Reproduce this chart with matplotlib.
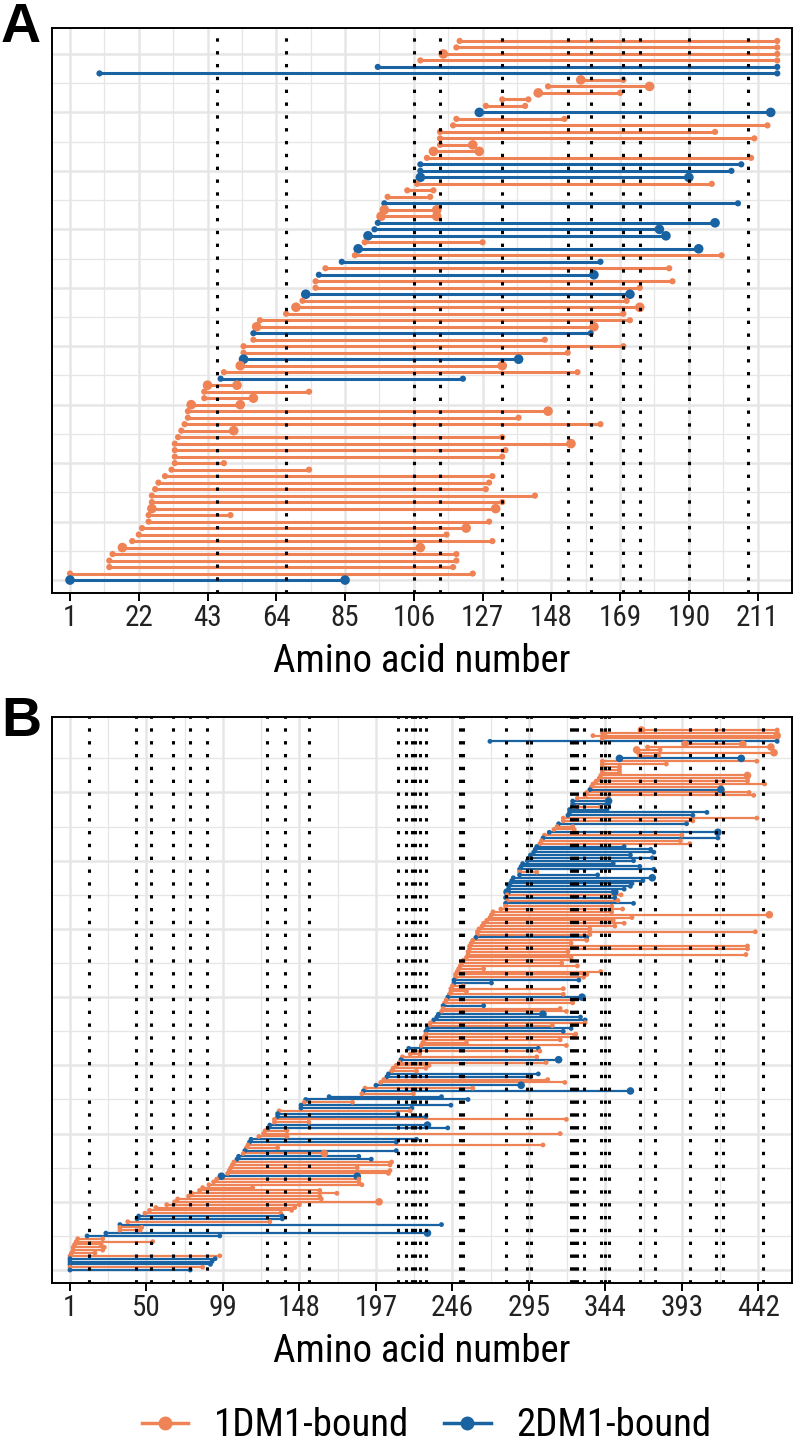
import matplotlib
matplotlib.use('Agg')
import matplotlib.pyplot as plt
from matplotlib.lines import Line2D
from matplotlib import font_manager
import numpy as np

ORANGE = '#EF8355'
BLUE = '#1A63A3'
GRIDC = '#E6E6E6'


def pick_font(names):
    for nm in names:
        try:
            font_manager.findfont(nm, fallback_to_default=False)
            return nm
        except ValueError:
            pass
    return 'DejaVu Sans'


FONT = pick_font(['Liberation Sans Narrow', 'Arial Narrow', 'Roboto Condensed',
                  'Open Sans Condensed', 'Liberation Sans', 'DejaVu Sans'])
BOLDFONT = pick_font(['Liberation Sans', 'Arial', 'DejaVu Sans'])
plt.rcParams['font.family'] = [FONT, 'DejaVu Sans']

# ---------------- panel A (rows from top to bottom) ----------------
# group: 1 = 1DM1-bound, 2 = 2DM1-bound ; big: 0 none, 1 start, 2 end, 3 both
a_start = [120, 119, 115, 108, 95, 10, 157, 147, 144, 133, 128, 126, 119, 118, 114,
           114, 114, 112, 110, 108, 108, 108, 107, 104, 98, 97, 97, 96, 95, 94,
           92, 91, 89, 88, 84, 79, 77, 76, 76, 73, 72, 70, 67, 59, 58,
           57, 57, 54, 54, 54, 53, 48, 47, 43, 42, 42, 38, 37, 37, 36,
           35, 34, 33, 33, 33, 33, 32, 30, 28, 27, 26, 26, 26, 25, 25,
           23, 22, 20, 17, 14, 13, 13, 1, 1]
a_end = [217, 217, 217, 217, 217, 217, 170, 178, 169, 141, 140, 215, 152, 214, 198,
         210, 124, 126, 209, 206, 203, 190, 197, 112, 111, 205, 113, 113, 198, 181,
         183, 127, 193, 200, 163, 184, 161, 185, 175, 172, 171, 175, 170, 172, 161,
         160, 146, 170, 153, 138, 133, 156, 121, 52, 74, 57, 53, 147, 138, 163,
         51, 133, 154, 134, 133, 48, 74, 130, 129, 128, 143, 133, 131, 50, 129,
         122, 116, 130, 108, 119, 119, 118, 124, 85]
a_group = [1, 1, 1, 1, 2, 2, 1, 1, 1, 1, 1, 2, 1, 1, 1,
           1, 1, 1, 1, 2, 2, 2, 1, 1, 1, 2, 1, 1, 2, 2,
           2, 1, 2, 1, 2, 1, 2, 1, 1, 2, 1, 1, 1, 1, 1,
           2, 1, 1, 1, 2, 1, 1, 2, 1, 1, 1, 1, 1, 1, 1,
           1, 1, 1, 1, 1, 1, 1, 1, 1, 1, 1, 1, 1, 1, 1,
           1, 1, 1, 1, 1, 1, 1, 1, 2]
a_big = [0, 0, 1, 0, 0, 0, 1, 2, 1, 0, 0, 3, 0, 0, 0,
         0, 2, 3, 0, 0, 0, 3, 0, 0, 0, 0, 3, 3, 2, 2,
         3, 0, 3, 0, 0, 0, 2, 0, 0, 3, 0, 3, 0, 0, 3,
         0, 0, 0, 0, 3, 3, 0, 0, 3, 0, 2, 3, 2, 0, 0,
         2, 0, 2, 0, 0, 0, 0, 0, 0, 0, 0, 0, 3, 0, 0,
         2, 0, 0, 3, 0, 0, 0, 0, 3]
a_sites = [46, 67, 106, 114, 133, 153, 160, 170, 175, 190, 208]
a_ticks = [1, 22, 43, 64, 85, 106, 127, 148, 169, 190, 211]

# ---------------- panel B (rows from top to bottom) ----------------
b_start = [367, 343, 336, 342, 270, 395, 371, 364, 365, 366, 353, 342, 342, 342, 342,
           342, 341, 340, 338, 336, 335, 334, 332, 331, 326, 323, 323, 326, 321, 321,
           320, 317, 317, 314, 313, 311, 308, 305, 304, 303, 302, 300, 299, 298, 296,
           295, 294, 291, 290, 289,
           289, 289, 285, 284, 283, 282, 282, 281, 281, 280, 281, 280, 280, 277, 272,
           271, 270, 268, 266, 265, 263, 262, 262, 261, 259, 258, 257, 257, 256, 256,
           255, 253, 252, 251, 250, 249, 248, 248, 247, 247, 246, 245, 245, 244, 243,
           242, 241, 240,
           240, 239, 237, 236, 234, 232, 231, 230, 229, 229, 228, 228, 227, 226, 218,
           221, 219, 214, 213, 212, 210, 208, 207, 205, 204, 202, 200, 197, 190, 189,
           188, 167, 152, 151, 149, 149, 135, 134, 134, 132, 132, 129, 128, 126, 125,
           122, 117, 116, 115,
           114, 113, 112, 109, 108, 106, 105, 104, 103, 102, 98, 95, 93, 90, 86,
           84, 79, 77, 70, 68, 63, 56, 52, 49, 45, 44, 38, 33, 33, 33,
           24, 12, 6, 5, 4, 3, 3, 2, 1, 1, 1, 1, 1, 1]
b_end = [454, 454, 454, 454, 454, 432, 450, 379, 452, 378, 431, 441, 383, 353, 353,
         353, 435, 435, 435, 446, 418, 418, 436, 439, 346, 346, 346, 341, 345, 409,
         400, 441, 400, 396, 323, 324, 416, 393, 416, 392, 398, 356, 373, 375, 360,
         374, 362, 349, 366, 375,
         300, 339, 374, 368, 361, 360, 356, 350, 354, 350, 352, 362, 348, 355, 348,
         449, 361, 349, 356, 350, 334, 440, 334, 332, 332, 322, 435, 435, 320, 434,
         322, 322, 316, 326, 266, 341, 332, 330, 327, 271, 253, 317, 255, 317, 329,
         323, 323, 266,
         315, 319, 304, 328, 331, 331, 310, 322, 317, 325, 324, 315, 255, 319, 301,
         302, 225, 300, 314, 306, 231, 229, 223, 301, 296, 307, 318, 290, 259, 360,
         221, 239, 256, 182, 245, 220, 219, 211, 229, 319, 154, 230, 243, 140, 315,
         140, 223, 210, 304,
         134, 210, 164, 186, 194, 207, 206, 185, 206, 205, 185, 186, 186, 188, 118,
         161, 172, 161, 162, 199, 148, 145, 143, 136, 137, 137, 129, 239, 47, 46,
         230, 97, 22, 54, 21, 23, 22, 17, 97, 94, 92, 91, 86, 78]
b_group = [1, 1, 1, 1, 2, 1, 1, 1, 1, 1, 2, 1, 1, 1, 1,
           1, 1, 1, 1, 1, 1, 2, 1, 1, 1, 2, 2, 1, 2, 2,
           2, 1, 1, 2, 1, 1, 2, 1, 2, 1, 1, 2, 2, 2, 2,
           2, 2, 2, 2, 2,
           1, 2, 2, 2, 2, 2, 2, 2, 1, 2, 1, 2, 1, 1, 1,
           1, 1, 1, 1, 1, 1, 1, 1, 2, 1, 1, 1, 1, 1, 1,
           1, 1, 1, 1, 1, 1, 1, 1, 2, 2, 1, 1, 1, 1, 2,
           1, 1, 2,
           1, 1, 2, 2, 2, 1, 1, 2, 2, 1, 1, 1, 1, 1, 2,
           1, 1, 1, 2, 1, 1, 1, 1, 2, 2, 1, 1, 2, 1, 2,
           1, 2, 2, 1, 2, 2, 1, 2, 2, 1, 1, 2, 2, 1, 1,
           1, 2, 2, 1,
           1, 2, 1, 2, 2, 1, 1, 1, 1, 1, 2, 1, 1, 1, 1,
           1, 1, 1, 1, 1, 1, 1, 1, 1, 2, 2, 1, 2, 1, 1,
           2, 2, 1, 1, 1, 1, 1, 1, 1, 2, 2, 2, 1, 2]
b_big = [1, 1, 2, 0, 0, 3, 2, 1, 2, 0, 3, 0, 0, 0, 0,
         0, 2, 0, 0, 0, 0, 2, 0, 0, 0, 2, 0, 0, 0, 0,
         0, 0, 0, 0, 0, 0, 2, 0, 0, 0, 0, 0, 0, 0, 0,
         0, 0, 0, 0, 0,
         0, 0, 2, 0, 0, 0, 0, 3, 0, 0, 0, 0, 0, 0, 0,
         2, 0, 0, 0, 0, 0, 0, 0, 0, 0, 0, 0, 0, 0, 0,
         0, 0, 0, 0, 0, 0, 0, 0, 0, 0, 0, 0, 0, 0, 2,
         0, 0, 0,
         0, 0, 2, 0, 0, 0, 0, 0, 0, 0, 0, 0, 0, 0, 0,
         0, 0, 0, 2, 0, 0, 0, 0, 0, 0, 0, 0, 2, 0, 2,
         0, 0, 0, 0, 0, 0, 0, 0, 0, 0, 0, 2, 0, 0, 0,
         0, 0, 0, 0,
         0, 0, 2, 0, 0, 0, 0, 0, 0, 0, 3, 0, 0, 0, 0,
         0, 0, 0, 0, 2, 0, 0, 0, 0, 0, 0, 0, 0, 0, 0,
         2, 0, 0, 0, 0, 0, 0, 0, 0, 0, 0, 0, 0, 0]
b_sites = [13, 43, 53, 67, 78, 89, 127, 139, 154, 211, 216, 220, 222, 225, 229,
           251, 253, 280, 294, 296, 322, 324, 326, 330, 341, 344, 346, 366, 376,
           398, 415, 419, 445]
b_ticks = [1, 50, 99, 148, 197, 246, 295, 344, 393, 442]

W, H = 794, 1449
fig = plt.figure(figsize=(W / 100, H / 100), dpi=100)


def draw_panel(rect, start, end, group, big, sites, ticks, xlim, lw, s_small, s_big, ygrid):
    ax = fig.add_axes(rect)
    n = len(start)
    y = np.arange(n)[::-1]
    start = np.array(start)
    end = np.array(end)
    group = np.array(group)
    big = np.array(big)
    cols = np.where(group == 1, ORANGE, BLUE)
    ax.hlines(y, start, end, colors=cols, lw=lw, zorder=3)
    s0 = np.where((big == 1) | (big == 3), s_big, s_small)
    s1 = np.where((big == 2) | (big == 3), s_big, s_small)
    ax.scatter(start, y, s=s0, c=cols, zorder=4, linewidths=0)
    ax.scatter(end, y, s=s1, c=cols, zorder=4, linewidths=0)
    for xs in sites:
        ax.axvline(xs, color='black', lw=2.2, linestyle=(0, (1.1, 3.1)), zorder=6)
    step = ticks[1] - ticks[0]
    ax.set_xticks(ticks)
    ax.set_xticks([t + step / 2 for t in ticks[:-1]] + [ticks[0] - step / 2, ticks[-1] + step / 2], minor=True)
    m = 0.024 * (n - 1)
    ax.set_ylim(-m, n - 1 + m)
    ax.set_xlim(*xlim)
    ax.set_yticks(np.arange(0, n, ygrid))
    ax.set_yticks(np.arange(ygrid / 2, n, ygrid), minor=True)
    ax.tick_params(axis='y', which='both', length=0, labelleft=False)
    ax.tick_params(axis='x', which='major', length=6, width=1.4, color='black',
                   labelsize=21, labelcolor='#222222', pad=2)
    ax.tick_params(axis='x', which='minor', length=0)
    ax.grid(True, which='major', color=GRIDC, lw=1.8, zorder=0)
    ax.grid(True, which='minor', color=GRIDC, lw=0.9, zorder=0)
    ax.set_axisbelow(True)
    for sp in ax.spines.values():
        sp.set_linewidth(1.4)
        sp.set_color('black')
    return ax


l, r = 52 / W, 792 / W
draw_panel([l, 1 - 593 / H, r - l, (593 - 28) / H], a_start, a_end, a_group, a_big,
           a_sites, a_ticks, (-4.5, 221.5), 2.2, 20, 48, 9)
draw_panel([l, 1 - 1283 / H, r - l, (1283 - 717) / H], b_start, b_end, b_group, b_big,
           b_sites, b_ticks, (-10.5, 463.5), 1.6, 12, 30, 24)

fig.text(422 / W, 1 - 661 / H, 'Amino acid number', ha='center', va='center', fontsize=28)
fig.text(422 / W, 1 - 1351 / H, 'Amino acid number', ha='center', va='center', fontsize=28)
fig.text(1 / W, 1 - 2 / H, 'A', ha='left', va='top', fontsize=40, fontweight='bold',
         family=[BOLDFONT, 'DejaVu Sans'])
fig.text(1 / W, 1 - 696 / H, 'B', ha='left', va='top', fontsize=40, fontweight='bold',
         family=[BOLDFONT, 'DejaVu Sans'])

handles = [Line2D([0], [0], color=ORANGE, lw=2.5, marker='o', markersize=9),
           Line2D([0], [0], color=BLUE, lw=2.5, marker='o', markersize=9)]
fig.legend(handles, ['1DM1-bound', '2DM1-bound'], loc='center', bbox_to_anchor=(0.537, 1 - 1426 / H),
           ncol=2, frameon=False, fontsize=28, handlelength=1.2, columnspacing=0.9,
           handletextpad=0.65)

fig.savefig('out.png', dpi=100)
